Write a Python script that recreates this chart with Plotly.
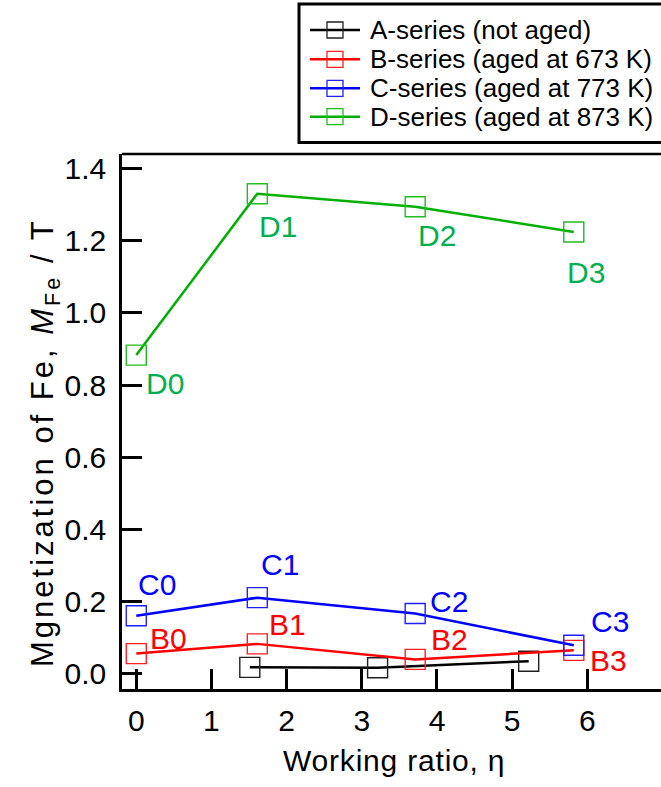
import plotly.graph_objects as go

# ---- data -------------------------------------------------------------
a_eta = [1.51, 3.21, 5.22]
a_mfe = [0.018, 0.017, 0.035]

b_eta = [0.0, 1.61, 3.71, 5.82]
b_mfe = [0.056, 0.083, 0.040, 0.065]

c_eta = [0.0, 1.61, 3.71, 5.82]
c_mfe = [0.161, 0.211, 0.167, 0.079]

d_eta = [0.0, 1.61, 3.71, 5.82]
d_mfe = [0.883, 1.330, 1.294, 1.224]

series_names = [
    "A-series (not aged)",
    "B-series (aged at 673 K)",
    "C-series (aged at 773 K)",
    "D-series (aged at 873 K)",
]
point_labels_b = ["B0", "B1", "B2", "B3"]
point_labels_c = ["C0", "C1", "C2", "C3"]
point_labels_d = ["D0", "D1", "D2", "D3"]

x_ticks = [0, 1, 2, 3, 4, 5, 6]
y_ticks = [0.0, 0.2, 0.4, 0.6, 0.8, 1.0, 1.2, 1.4]

# ---- layout constants ------------------------------------------------
W, H = 661, 787
ML, MR, MT, MB = 122, 0, 154, 98
PW, PH = W - ML - MR, H - MT - MB
FONT = "Arial, Liberation Sans, sans-serif"

LINE_COLORS = ["#000000", "#FF0000", "#0000FF", "#00B000"]
MARKER_COLORS = ["#202020", "#FF2020", "#2020FF", "#22BB22"]
LABEL_COLORS = ["#000000", "#FF0000", "#0000FF", "#00B050"]


def px2x(px):
    return (px - ML) / PW


def py2y(py):
    return (H - MB - py) / PH


fig = go.Figure()

series = [(a_eta, a_mfe), (b_eta, b_mfe), (c_eta, c_mfe), (d_eta, d_mfe)]
for i, (xs, ys) in enumerate(series):
    fig.add_trace(go.Scatter(
        x=xs, y=ys, mode="lines+markers", name=series_names[i],
        line=dict(color=LINE_COLORS[i], width=2.5),
        marker=dict(symbol="square-open", size=20,
                    color=MARKER_COLORS[i], line=dict(width=1.4)),
        showlegend=False, cliponaxis=False,
    ))

# point labels, offset from each marker in pixels (dx right, dy up)
label_offsets_b = [(32, 15), (30, 19), (34, 20), (35, -10)]
label_offsets_c = [(21, 31), (23, 33), (34, 12), (36, 24)]
label_offsets_d = [(29, -28), (21, -33), (22, -29), (12, -41)]

for ci, xs, ys, texts, offs in [
    (1, b_eta, b_mfe, point_labels_b, label_offsets_b),
    (2, c_eta, c_mfe, point_labels_c, label_offsets_c),
    (3, d_eta, d_mfe, point_labels_d, label_offsets_d),
]:
    for x, y, t, (dx, dy) in zip(xs, ys, texts, offs):
        fig.add_annotation(
            x=x, y=y, text=t, showarrow=False,
            xanchor="center", yanchor="middle",
            xshift=dx, yshift=dy,
            font=dict(family=FONT, size=30, color=LABEL_COLORS[ci]),
        )

# legend box
fig.add_shape(type="rect", xref="paper", yref="paper",
              x0=px2x(299), x1=px2x(668), y0=py2y(142.5), y1=py2y(4),
              line=dict(color="black", width=3), fillcolor="white", layer="above")
legend_rows = [30, 59.3, 88.3, 116.7]
for i, row in enumerate(legend_rows):
    fig.add_shape(type="line", xref="paper", yref="paper",
                  x0=px2x(310), x1=px2x(360), y0=py2y(row), y1=py2y(row),
                  line=dict(color=LINE_COLORS[i], width=2.5), layer="above")
    fig.add_shape(type="rect", xref="paper", yref="paper",
                  x0=px2x(327), x1=px2x(343), y0=py2y(row + 8), y1=py2y(row - 8),
                  line=dict(color=MARKER_COLORS[i], width=1.3), layer="above")
    fig.add_annotation(
        xref="paper", yref="paper", x=px2x(368), y=py2y(row),
        text=series_names[i], showarrow=False,
        xanchor="left", yanchor="middle",
        font=dict(family=FONT, size=26, color="black"),
    )

# top frame line
fig.add_shape(type="line", xref="paper", yref="paper",
              x0=0, x1=1.02, y0=1, y1=1,
              line=dict(color="black", width=2.5))

# axis titles
fig.add_annotation(
    xref="paper", yref="paper", x=px2x(394), y=py2y(760),
    text='<span style="letter-spacing:0.8px">Working ratio, η</span>',
    showarrow=False, xanchor="center", yanchor="middle",
    font=dict(family=FONT, size=30, color="black"),
)
fig.add_annotation(
    xref="paper", yref="paper", x=px2x(45), y=py2y(443),
    text='<span style="letter-spacing:3px">Mgnetization of Fe, '
         '<i>M</i><sub>Fe</sub> / T</span>',
    showarrow=False, textangle=-90, xanchor="center", yanchor="middle",
    font=dict(family=FONT, size=31, color="black"),
)

fig.update_xaxes(
    range=[-0.19, 6.98], tickvals=x_ticks, ticktext=[str(v) for v in x_ticks],
    showline=True, linecolor="black", linewidth=2.5,
    ticks="inside", ticklen=20, tickwidth=2.5, tickcolor="black",
    showgrid=False, zeroline=False, ticklabelstandoff=3,
    tickfont=dict(family=FONT, size=30, color="black"),
)
fig.update_yaxes(
    range=[-0.042, 1.44], tickvals=y_ticks, ticktext=[f"{v:.1f}" for v in y_ticks],
    showline=True, linecolor="black", linewidth=2.5,
    ticks="inside", ticklen=20, tickwidth=2.5, tickcolor="black",
    showgrid=False, zeroline=False, ticklabelstandoff=7,
    tickfont=dict(family=FONT, size=30, color="black"),
)

fig.update_layout(
    width=W, height=H,
    margin=dict(l=ML, r=MR, t=MT, b=MB, pad=0),
    paper_bgcolor="white", plot_bgcolor="white",
    showlegend=False,
)

fig.write_html("out.html")
